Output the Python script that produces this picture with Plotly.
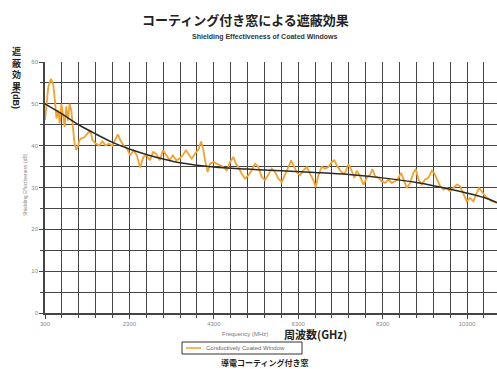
import plotly.graph_objects as go

# Measured (orange) data: frequency in MHz, shielding in dB
freq_mhz = [300, 339, 378, 440, 495, 533, 572, 611, 650, 689, 728, 766, 805, 844, 883, 922, 961,
            1000, 1039, 1077, 1116, 1155, 1233, 1310, 1372, 1427, 1504, 1582, 1660, 1738, 1815,
            1893, 1971, 2025, 2087, 2165, 2242, 2320, 2398, 2476, 2553, 2631, 2709, 2786, 2864,
            2942, 3020, 3097, 3175, 3253, 3330, 3408, 3486, 3564, 3641,
            3697, 3776, 3855, 3934, 3997, 4053, 4092, 4155, 4211, 4290, 4369, 4448, 4527, 4606,
            4685, 4764, 4819, 4882, 4961, 5040, 5119, 5198, 5277, 5356, 5435, 5514, 5593, 5672,
            5751, 5830, 5909, 5988, 6067, 6130, 6186, 6265, 6344, 6423, 6502, 6581, 6660, 6715,
            6778, 6857, 6936, 7015, 7094, 7157, 7213, 7292, 7371,
            7410, 7489, 7552, 7631, 7687, 7766, 7845, 7924, 8003, 8058, 8121, 8200, 8279, 8358,
            8437, 8516, 8595, 8674, 8737, 8793, 8872, 8951, 9030, 9085, 9148, 9227, 9306, 9385,
            9464, 9519, 9582, 9661, 9740, 9819, 9898, 9977, 10056, 10135, 10214, 10293, 10372,
            10451, 10530, 10586, 10649, 10728, 10807, 10886, 11012]
shielding_db = [46.1, 50, 54, 56, 54.6, 51, 46.5, 48.5, 45.3, 50, 47, 44.5, 49.4, 46, 50, 48.5, 44.5,
                40.5, 39, 39.7, 41.3, 41.7, 42, 43, 43.7, 41.3, 40.5, 40, 41, 40, 40.5,
                40, 41.7, 42.7, 41.3, 40, 39.3, 37.7, 38.9, 37.7, 34.8, 37.3, 37.7, 36.5, 38.5,
                38, 36.5, 38.9, 37.7, 36.5, 37.7, 36.5, 36.9, 37.7, 38.9,
                38.1, 36.9, 38.1, 39, 41, 39, 36.5, 33.7, 35.7, 36.1, 35.7, 35.3, 34.9, 34.1,
                36.1, 37.3, 35.7, 34.9, 33.3, 32.1, 32.9, 34.1, 35.7, 34.9, 32.5, 31.7, 33.3, 34.5,
                33.7, 32.1, 31.3, 32.9, 34.9, 36.5, 35.3, 33.7, 32.9, 34.1, 34.9, 33.3, 31.7, 30.1,
                32.9, 34.9, 34.5, 34.9, 36.1, 36.5, 35.3, 34.1, 33.3,
                33.5, 35.6, 34.4, 32.3, 34, 32.7, 30.7, 32.3, 33.1, 34.4, 32.7, 32.3, 31.5, 31.1,
                31.9, 31.1, 31.5, 32.3, 33.5, 31.9, 29.9, 31.1, 33.5, 34.4, 31.9, 30.7, 31.9, 32.3,
                34, 33.5, 31.9, 30.3, 29.5, 29.9, 29.1, 29.9, 30.7, 30.3, 28.3, 26.7, 27.5,
                26.7, 28.7, 29.9, 29.1, 27.9, 27.3, 26.7, 26.3]

# Trend (black) curve
trend_freq = [300, 700, 1100, 1500, 1900, 2300, 2700, 3100, 3500, 4300, 5100, 5900, 6700,
              7500, 8300, 9100, 9900, 10700, 11010]
trend_db = [50, 47.6, 45, 42.8, 40.8, 39.2, 37.9, 36.8, 35.9, 34.9, 34.4, 34.0, 33.6,
            33.1, 32.3, 31.2, 29.6, 27.6, 26.4]

x_ticks = [300, 2300, 4300, 6300, 8300, 10300]
y_ticks = [0, 10, 20, 30, 40, 50, 60]
series_name = "Conductively Coated Window"

W, H = 497, 369
L, R, T, B = 45, 0, 62, 56
PW, PH = W - L - R, H - T - B

def px(x):
    return (x - L) / PW

def py(y):
    return (H - B - y) / PH

JP = "Noto Sans CJK JP"
GRID = "#454545"
ORANGE = "#F3A22E"

fig = go.Figure()
fig.add_trace(go.Scatter(x=freq_mhz, y=shielding_db, mode="lines",
                         line=dict(color=ORANGE, width=1.8),
                         name=series_name, showlegend=False))
fig.add_trace(go.Scatter(x=trend_freq, y=trend_db, mode="lines",
                         line=dict(color="#2a2a2a", width=1.5, shape="spline"),
                         showlegend=False, hoverinfo="skip"))

fig.update_layout(
    width=W, height=H,
    margin=dict(l=L, r=R, t=T, b=B, autoexpand=False),
    paper_bgcolor="white", plot_bgcolor="white",
    font=dict(family="Liberation Sans, Arial", size=6, color="#888"),
    xaxis=dict(range=[300, 11010], tickvals=x_ticks, ticktext=[str(v) for v in x_ticks],
               showgrid=True, gridcolor=GRID, gridwidth=1.4,
               minor=dict(dtick=400, tick0=300, showgrid=True, gridcolor=GRID, gridwidth=1.4,
                          ticks="outside", ticklen=3, tickcolor=GRID),
               ticks="outside", ticklen=4, tickcolor=GRID,
               showline=True, linecolor=GRID, linewidth=1.6,
               tickfont=dict(size=6, color="#888"), zeroline=False, automargin=False),
    yaxis=dict(range=[0, 60], tickvals=y_ticks,
               showgrid=True, gridcolor=GRID, gridwidth=1.4,
               minor=dict(dtick=5, showgrid=True, gridcolor=GRID, gridwidth=1.4,
                          ticks="outside", ticklen=3, tickcolor=GRID),
               ticks="outside", ticklen=4, tickcolor=GRID,
               showline=True, linecolor=GRID, linewidth=1.6,
               tickfont=dict(size=6, color="#888"), zeroline=False, automargin=False),
    showlegend=False,
)

# Legend box drawn in paper space (compact, like the original)
fig.add_shape(type="rect", xref="paper", yref="paper",
              x0=px(182), x1=px(302), y0=py(342), y1=py(354),
              line=dict(color="#333", width=1), fillcolor="white")
fig.add_shape(type="line", xref="paper", yref="paper",
              x0=px(186), x1=px(201), y0=py(348), y1=py(348),
              line=dict(color=ORANGE, width=1.5))

ann = [
    dict(text="<b>コーティング付き窓による遮蔽効果</b>", x=px(245), y=py(20),
         font=dict(family=JP, size=13, color="#222")),
    dict(text="<b>Shielding Effectiveness of Coated Windows</b>", x=px(265), y=py(37),
         font=dict(family="Liberation Sans", size=7, color="#333")),
    dict(text="<b>遮<br>蔽<br>効<br>果</b>", x=px(16), y=py(69),
         font=dict(family=JP, size=9, color="#222")),
    dict(text="<b>(dB)</b>", x=px(16), y=py(100), textangle=90,
         font=dict(family="Liberation Sans", size=9, color="#222")),
    dict(text="Shielding Effectiveness (dB)", x=px(25), y=py(185), textangle=-90,
         font=dict(family="Liberation Sans", size=5, color="#888")),
    dict(text="Frequency (MHz)", x=px(245), y=py(334),
         font=dict(family="Liberation Sans", size=6, color="#777")),
    dict(text="<b>周波数(GHz)</b>", x=px(315), y=py(334),
         font=dict(family=JP, size=11, color="#222")),
    dict(text=series_name, x=px(204), y=py(348), xanchor="left",
         font=dict(family="Liberation Sans", size=6, color="#666")),
    dict(text="<b>導電コーティング付き窓</b>", x=px(265), y=py(362),
         font=dict(family=JP, size=8, color="#222")),
]
for a in ann:
    a.setdefault("yanchor", "middle")
    a.setdefault("xanchor", "center")
    a.update(xref="paper", yref="paper", showarrow=False)
    fig.add_annotation(**a)

fig.write_html("out.html", config={"displayModeBar": False},
               post_script="document.body.style.margin='0';document.body.style.overflow='hidden';")
